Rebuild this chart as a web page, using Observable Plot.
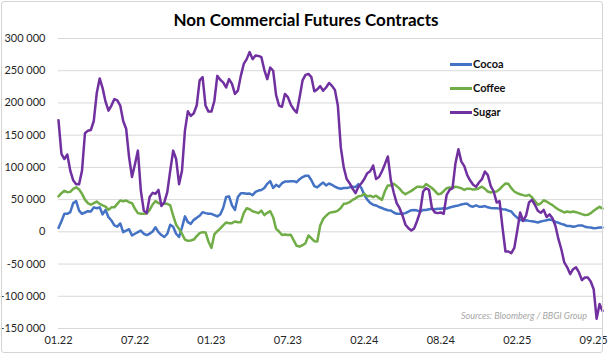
<!DOCTYPE html>
<html>
<head>
<meta charset="utf-8">
<script src="https://cdn.jsdelivr.net/npm/d3@7"></script>
<script src="https://cdn.jsdelivr.net/npm/@observablehq/plot@0.6"></script>
<style>
  html, body { margin:0; padding:0; background:#fff; }
  #wrap { position:relative; width:612px; height:357px; font-family:Lato, "Open Sans", sans-serif; }
  #frame { position:absolute; left:1px; top:1px; width:602px; height:352px; border:1px solid #d4d4d4; border-radius:3px; box-sizing:border-box; }
  #title { position:absolute; left:0; width:612px; top:9px; text-align:center; font-weight:700; font-size:17px; color:#000; }
  #legend { position:absolute; left:450px; top:56px; font-size:11px; font-weight:700; color:#111; }
  .li { position:absolute; left:0; white-space:nowrap; height:16px; line-height:16px; }
  .li span.sw { position:absolute; left:0; top:7px; width:22px; height:2.5px; }
  .li span.tx { position:absolute; left:23px; top:0; }
  #source { position:absolute; left:0; width:587px; top:310px; text-align:right; font-size:9px; font-style:italic; color:#a6a6a6; }
  #chart svg { position:absolute; left:0; top:0; }
</style>
</head>
<body>
<div id="wrap">
  <div id="chart"></div>
  <div id="frame"></div>
  <div id="title">Non Commercial Futures Contracts</div>
  <div id="legend"></div>
  <div id="source">Sources: Bloomberg / BBGI Group</div>
</div>
<script>
// Weekly observations, in thousands of contracts (first week of Jan 2022 onward)
const tickLabels = ["01.22","07.22","01.23","07.23","02.24","08.24","02.25","09.25"];
const tickWeeks = [0, 26, 52, 78, 104, 130, 156, 182];
const seriesNames = ["Cocoa", "Coffee", "Sugar"];
const seriesColors = ["#4472C4", "#70AD47", "#7030A0"];

const cocoa = [
  6, 16.5, 28, 28, 30.5, 44.5, 47.6, 33, 28, 30,
  32, 31.5, 38, 36.7, 38, 27, 34, 22.7, 17.6, 10,
  8, 13, -0.5, 2, 4, -5.7, -3, -0.5, 2, -3,
  -5, -3, 0.5, 7, -0.5, -5, -8,
  -3, 11, 8, -3, -8, 7, 24, 15, 12.4, 18.6,
  21.7, 25, 30.5, 29, 28, 28, 26, 24, 27, 37,
  54, 55, 41, 34, 54, 60, 60, 59, 59.5, 57,
  62, 64, 65, 68, 74.5, 78.6, 68, 73,
  70, 75.5, 78, 78, 78.6, 78.6, 77, 81.7, 85, 87,
  87, 80, 71, 69, 73, 76.5, 72, 75, 73, 70,
  68, 67, 68, 68, 69, 70, 69.5, 74, 68,
  57, 50, 45, 42, 41, 38.5, 37, 35, 33.5,
  33, 30, 28, 28, 28, 29, 31.5, 33.6, 34, 33,
  31.5, 34, 34, 35, 35.7, 35, 35.7, 35.7, 36.7, 36,
  37.7, 38.8, 40, 41, 42.4, 43.4, 43.4, 40, 39, 41,
  39, 39, 40, 38, 37, 36.7, 36.7,
  36, 35, 34.6, 33, 31.5, 26, 22, 18.6, 17, 18,
  17, 16.5, 15.5, 14.5, 16, 17, 18, 19, 18, 15.5,
  14, 12.4, 11, 9, 9, 8, 8.8, 10, 10, 8,
  7, 6.7, 5.7, 6, 6.7, 6.7
];

const coffee = [
  55, 60, 63.6, 61.5, 62, 66.7, 69, 65.6, 59, 50,
  44.5, 42, 44.5, 47, 43.4, 41, 39, 34, 38, 38,
  43.4, 48.6, 47.6, 48.6, 46, 44.5, 35.7, 29, 28, 28,
  28.4, 34, 42.4, 47.6, 44.5, 43, 43.4,
  43.4, 41, 25, 11, 4.6, -3, -12, -14, -13.4, -12,
  -6.7, -2, -0.5, -1, -15, -25, -4, 1, 5, 10,
  14.5, 13.4, 13.4, 16, 15, 15, 29, 36.7, 35, 32,
  30.5, 29, 33, 26, 29.5, 32, 22.7, 4.6,
  0.5, -5, -4, -5, -4.6, -13.4, -21.7, -23, -20.7, -17.6,
  -5.7, -10, -14.5, -15, 9.8, 20, 25, 29, 30.5, 31,
  33, 37, 43.4, 44, 46, 49.6, 52, 55, 56,
  59, 55, 56, 53.8, 56, 52.7, 49.6, 63, 72,
  72, 74.5, 71, 67, 61.5, 58.4, 61, 63.6, 66.7, 70,
  69.8, 69, 74, 71, 68, 63.6, 58.4, 59, 63, 67.7,
  68.8, 68, 70, 69, 67.7, 65, 67, 66.7, 65.6, 66,
  67.7, 70, 66.7, 62.6, 61, 62, 62.6,
  66, 71, 75, 74.5, 67.7, 62.6, 60, 58.4, 57, 55.8,
  57.4, 53.8, 48, 42, 44, 49, 47, 44, 41.4, 37.7,
  34.6, 32.6, 30, 31.5, 30.5, 31.5, 30.5, 29, 27.4, 26,
  26.4, 29, 32.6, 36, 38.8, 36
];

const sugar = [
  173, 121, 113, 120, 95, 80, 74, 74, 95, 153,
  157, 158, 172, 215, 238, 223, 202, 188, 196, 206,
  204, 196, 172, 160, 116, 85, 105, 126, 64, 33,
  29, 54, 60.5, 59, 65, 40, 46,
  61.5, 95, 126, 113, 74, 95, 157, 187, 180, 184,
  196, 235, 240, 196, 186.6, 186.6, 203, 242, 236, 232,
  224, 237, 229.5, 214, 219, 242, 260.5, 268, 279, 268,
  273.5, 273, 271, 251, 237, 255, 250, 212,
  196, 194, 214, 209, 197.5, 190, 185, 209, 235, 243.5,
  245, 240, 218, 221, 226, 219, 224, 231, 226.5, 220,
  196, 131, 100, 82, 75.5, 67, 60, 70, 75.5,
  82, 91, 94, 103, 82, 85, 94, 105, 117,
  80.6, 61, 44.5, 36.7, 25, 11, 5.7, 2, 5.7, 17.6,
  31.5, 62.6, 67.7, 65, 36.7, 30, 29, 30, 28, 57.4,
  65, 67.7, 106.5, 128, 109, 102, 88, 79.6, 73, 70,
  76.5, 81.7, 93.6, 88, 71, 62.6, 45.5,
  47.6, 6.7, -30.5, -30.5, -33, -25, 1.5, 30, 17, 25,
  45.5, 49.6, 42, 32.6, 29.5, 34, 23, 27, 21, 9,
  -11, -27, -47.5, -55, -65.6, -58, -55, -63, -75, -70.8,
  -70.8, -77, -89, -135, -112, -123
];

const yTicks = [-150000, -100000, -50000, 0, 50000, 100000, 150000, 200000, 250000, 300000];

const fmt = d3.formatLocale({decimal: ".", thousands: " ", grouping: [3], currency: ["", ""], minus: "-"}).format(",d");
const allSeries = [cocoa, coffee, sugar];
const rows = allSeries.map((vals, s) => vals.map((v, i) => ({week: i, value: v * 1000, name: seriesNames[s]})));

const chart = Plot.plot({
  width: 612,
  height: 357,
  marginTop: 38,
  marginBottom: 29,
  marginLeft: 58,
  marginRight: 10,
  style: {fontFamily: "Lato, 'Open Sans', sans-serif", fontSize: "11px", color: "#262626", background: "transparent", overflow: "visible"},
  x: {domain: [0, 185], label: null},
  y: {domain: [-150000, 300000], label: null},
  marks: [
    Plot.gridY(yTicks, {stroke: "#d9d9d9", strokeOpacity: 1, strokeWidth: 1}),
    Plot.axisY(yTicks, {tickFormat: fmt, tickSize: 0, tickPadding: 13, label: null}),
    Plot.axisX(tickWeeks, {tickFormat: (d) => tickLabels[tickWeeks.indexOf(d)], tickSize: 0, tickPadding: 8, label: null}),
    ...rows.map((r, s) => Plot.line(r, {x: "week", y: "value", stroke: seriesColors[s], strokeWidth: 2.5, strokeLinejoin: "round", strokeLinecap: "round"}))
  ]
});
document.getElementById("chart").appendChild(chart);

const legend = document.getElementById("legend");
seriesNames.forEach((n, i) => {
  const d = document.createElement("div");
  d.className = "li";
  d.style.top = (i * 24) + "px";
  d.innerHTML = `<span class="sw" style="background:${seriesColors[i]}"></span><span class="tx">${n}</span>`;
  legend.appendChild(d);
});
</script>
</body>
</html>
